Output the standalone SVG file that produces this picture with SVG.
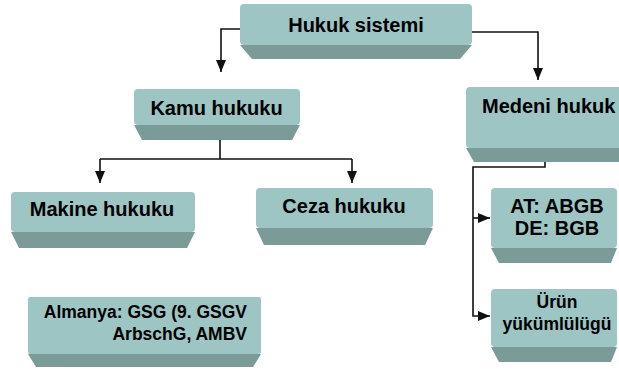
<svg xmlns="http://www.w3.org/2000/svg" width="619" height="370" viewBox="0 0 619 370">
<defs>
<style>
.face{fill:#9dc5c4;}
.bev{fill:#7a9b98;}
.t{font-family:"Liberation Sans",Arial,sans-serif;font-weight:bold;font-size:20px;fill:#000;text-anchor:middle;}
.s{font-size:17.5px;}
.c{fill:none;stroke:#111;stroke-width:1.6;}
</style>
<marker id="ah" markerUnits="userSpaceOnUse" markerWidth="12" markerHeight="10" refX="12" refY="5" orient="auto">
<path d="M0,0 L12,5 L0,10 z" fill="#111"/>
</marker>
</defs>
<rect width="619" height="370" fill="#fff"/>
<g id="connectors">
<path class="c" d="M240,29 H221 V72" marker-end="url(#ah)"/>
<path class="c" d="M472,32 H538 V80" marker-end="url(#ah)"/>
<path class="c" d="M220,140 V159 M100,159 H352"/>
<path class="c" d="M100,159 V183" marker-end="url(#ah)"/>
<path class="c" d="M352,159 V183" marker-end="url(#ah)"/>
<path class="c" d="M545,148 V167 H473 V316 H490" marker-end="url(#ah)"/>
<path class="c" d="M473,218 H490" marker-end="url(#ah)"/>
</g>
<g id="hukuk-sistemi">
<polygon class="bev" points="240,45 472,45 460,59 252,59"/>
<rect class="face" x="240" y="4" width="232" height="41" rx="4"/>
<text class="t" x="356" y="32">Hukuk sistemi</text>
</g>
<g id="kamu-hukuku">
<polygon class="bev" points="134,125 300,125 292,140 142,140"/>
<rect class="face" x="134" y="89" width="166" height="36" rx="4"/>
<text class="t" x="216.5" y="115">Kamu hukuku</text>
</g>
<g id="makine-hukuku">
<polygon class="bev" points="11,232 195,232 187,248 19,248"/>
<rect class="face" x="11" y="192" width="184" height="40" rx="4"/>
<text class="t" x="102" y="216">Makine hukuku</text>
</g>
<g id="ceza-hukuku">
<polygon class="bev" points="256,228 433,228 425,245 264,245"/>
<rect class="face" x="256" y="188" width="177" height="40" rx="4"/>
<text class="t" x="344" y="213">Ceza hukuku</text>
</g>
<g id="medeni-hukuk">
<polygon class="bev" points="466,148 640,148 632,162 474,162"/>
<rect class="face" x="466" y="87" width="174" height="61" rx="4"/>
<text class="t" x="482" y="113" style="text-anchor:start">Medeni hukuk</text>
</g>
<g id="at-de">
<polygon class="bev" points="491,248 617,248 611,263 499,263"/>
<rect class="face" x="491" y="188" width="126" height="60" rx="4"/>
<text class="t" x="557" y="213">AT: ABGB</text>
<text class="t" x="557" y="235">DE: BGB</text>
</g>
<g id="urun">
<polygon class="bev" points="491,347 617,347 611,362 499,362"/>
<rect class="face" x="491" y="289" width="126" height="58" rx="4"/>
<text class="t s" x="557" y="308">Ürün</text>
<text class="t s" x="557" y="330">yükümlülügü</text>
</g>
<g id="almanya">
<polygon class="bev" points="28,354 261,354 253,367 36,367"/>
<rect class="face" x="28" y="297" width="233" height="57" rx="2"/>
<text class="t s" x="247" y="318" style="text-anchor:end">Almanya: GSG (9. GSGV</text>
<text class="t s" x="247" y="340" style="text-anchor:end">ArbschG, AMBV</text>
</g>
</svg>
